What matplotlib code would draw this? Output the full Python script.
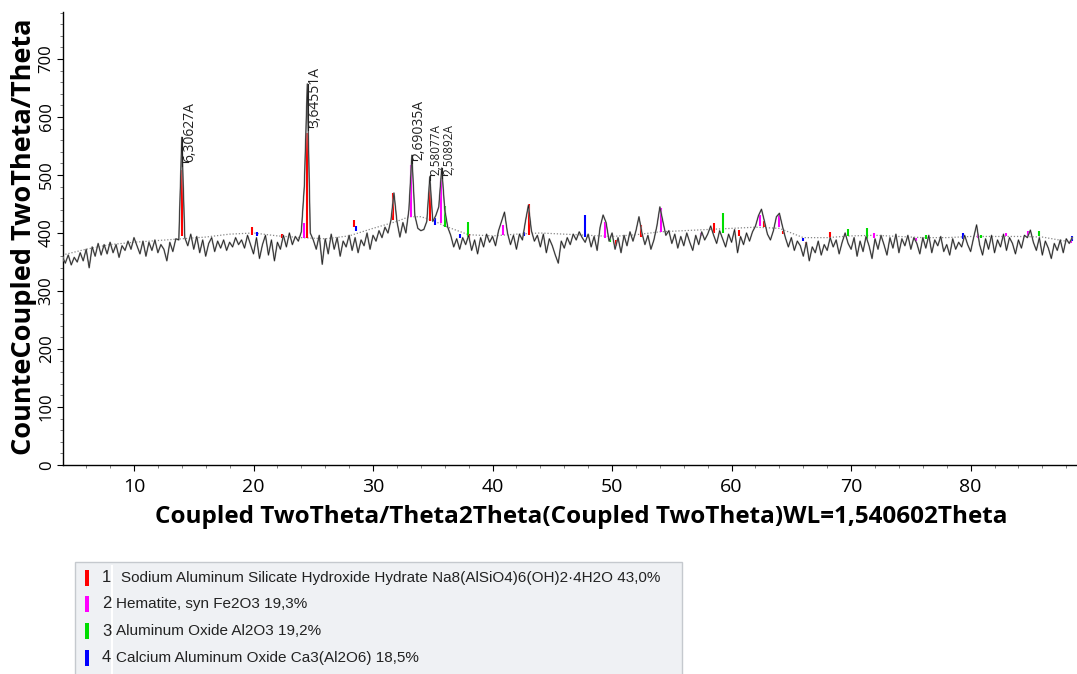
import numpy as np
import matplotlib
matplotlib.use("Agg")
import matplotlib.pyplot as plt
from matplotlib.patches import Rectangle
from matplotlib.lines import Line2D
from matplotlib.ticker import MultipleLocator

# ---------------- data ----------------
two_theta_start = 4.0
two_theta_step = 0.25
intensity = [
    360, 348, 362, 345, 358, 350, 366, 352, 372, 340, 376, 360, 382, 362, 380, 364,   # 4-7.75
    384, 366, 380, 358, 378, 370, 386, 372, 392, 378, 364, 386, 360, 384, 370, 388,   # 8-11.75
    366, 380, 372, 352, 384, 368, 390, 388, 565, 392, 378, 398, 372, 394, 366, 388,   # 12-15.75
    360, 382, 392, 368, 386, 374, 388, 370, 384, 376, 392, 380, 388, 374, 396, 380,   # 16-19.75
    364, 392, 356, 380, 396, 362, 388, 352, 384, 372, 396, 376, 400, 380, 394, 386,   # 20-23.75
    402, 480, 657, 400, 388, 372, 396, 346, 390, 364, 398, 372, 392, 360, 386, 376,   # 24-27.75
    396, 370, 392, 366, 388, 378, 400, 372, 396, 386, 404, 392, 410, 400, 422, 469,   # 28-31.75
    420, 393, 418, 400, 440, 534, 430, 408, 404, 406, 420, 497, 420, 430, 445, 512,   # 32-35.75
    440, 410, 396, 376, 390, 372, 392, 380, 396, 370, 388, 364, 392, 376, 398, 384,   # 36-39.75
    394, 378, 404, 420, 436, 400, 380, 396, 372, 398, 388, 420, 448, 404, 386, 396,   # 40-43.75
    376, 398, 366, 390, 378, 362, 348, 386, 374, 392, 380, 398, 388, 402, 392, 384,   # 44-47.75
    398, 376, 394, 370, 410, 431, 418, 386, 400, 372, 392, 366, 396, 378, 402, 386,   # 48-51.75
    404, 428, 400, 380, 396, 372, 388, 412, 445, 420, 396, 404, 382, 398, 374, 394,   # 52-55.75
    378, 400, 384, 370, 396, 380, 402, 388, 398, 412, 396, 382, 404, 390, 376, 398,   # 56-59.75
    384, 406, 366, 394, 380, 400, 386, 402, 412, 430, 441, 420, 398, 388, 404, 428,   # 60-63.75
    434, 412, 392, 376, 392, 370, 386, 378, 360, 384, 352, 376, 366, 386, 362, 380,   # 64-67.75
    370, 392, 376, 388, 364, 384, 400, 382, 372, 392, 360, 386, 368, 394, 378, 356,   # 68-71.75
    390, 372, 396, 380, 362, 392, 374, 398, 366, 390, 378, 396, 372, 392, 382, 364,   # 72-75.75
    392, 374, 396, 366, 388, 378, 394, 368, 380, 362, 390, 372, 384, 376, 396, 380,   # 76-79.75
    368, 392, 414, 380, 362, 390, 372, 396, 366, 388, 376, 398, 370, 392, 382, 364,   # 80-83.75
    388, 374, 396, 392, 405, 384, 370, 392, 362, 386, 374, 356, 382, 370, 388, 366,   # 84-87.75
    390, 382, 392,                                                                    # 88-88.5
]

# fitted background (dotted)
bg_theta = [4, 6, 8, 10, 12, 14, 16, 18, 20, 22, 24, 26, 28, 30, 32, 33, 34, 35, 36, 38,
            40, 42, 44, 46, 48, 50, 52, 54, 56, 58, 60, 62, 64, 66, 68, 70, 72, 74, 76, 78,
            80, 82, 84, 86, 88.5]
bg_counts = [362, 372, 380, 384, 387, 390, 393, 398, 400, 395, 392, 390, 395, 408, 420, 428, 428, 422, 412, 397,
             395, 398, 400, 398, 396, 394, 397, 402, 404, 406, 408, 410, 408, 392, 392, 395, 396, 394, 392, 392,
             394, 394, 394, 393, 384]

# phase sticks: position, top, base
red_pos = [14.0, 19.9, 22.4, 24.45, 28.4, 31.7, 34.8, 38.0, 43.05, 50.3, 52.4, 58.5, 60.6, 62.7, 64.3, 66.2, 68.2]
red_top = [509, 410, 398, 572, 422, 469, 479, 398, 450, 388, 414, 417, 405, 420, 403, 385, 402]
red_bot = [395, 396, 392, 392, 410, 422, 420, 390, 397, 378, 393, 400, 395, 410, 398, 378, 392]

mag_pos = [24.2, 33.2, 35.65, 40.85, 49.4, 54.1, 57.4, 62.4, 63.95, 71.9, 75.4, 80.6, 83.0, 84.8, 88.4]
mag_top = [418, 517, 495, 414, 419, 443, 400, 431, 431, 400, 392, 398, 400, 403, 388]
mag_bot = [392, 428, 417, 397, 391, 402, 394, 412, 410, 392, 386, 392, 394, 394, 382]

grn_pos = [36.0, 37.95, 49.8, 59.3, 69.7, 71.3, 76.3, 80.9, 85.7]
grn_top = [447, 419, 392, 434, 407, 408, 396, 396, 403]
grn_bot = [410, 393, 384, 400, 395, 390, 390, 392, 394]

blu_pos = [20.3, 28.6, 35.2, 37.3, 42.6, 47.7, 66.0, 79.4, 88.5]
blu_top = [402, 412, 425, 398, 402, 431, 392, 400, 394]
blu_bot = [395, 404, 414, 392, 394, 393, 386, 390, 386]

# d-spacing labels
d_labels = ["6,30627A", "3,64551A", "2,69035A", "2,58077A", "2,50892A"]
d_theta = [14.0, 24.5, 33.25, 34.75, 35.75]
d_peak = [565, 657, 534, 497, 512]
d_base = [522, 583, 526, 500, 500]

phase_names = [
    "Sodium Aluminum Silicate Hydroxide Hydrate Na8(AlSiO4)6(OH)2\u00b74H2O 43,0%",
    "Hematite, syn Fe2O3 19,3%",
    "Aluminum Oxide Al2O3 19,2%",
    "Calcium Aluminum Oxide Ca3(Al2O6) 18,5%",
]
phase_colors = ["#ff0000", "#ff00ff", "#00dd00", "#0000ff"]

# ---------------- plot ----------------
W, H = 1077, 674
fig = plt.figure(figsize=(W / 100, H / 100), dpi=100)
ax = fig.add_axes([63 / W, 1 - 465 / H, 1014 / W, 453 / H])

theta = two_theta_start + two_theta_step * np.arange(len(intensity))
ax.plot(bg_theta, bg_counts, color="#888888", lw=0.9, ls=(0, (1, 1.5)), zorder=2)

stick_sets = [(red_pos, red_top, red_bot), (mag_pos, mag_top, mag_bot),
              (grn_pos, grn_top, grn_bot), (blu_pos, blu_top, blu_bot)]
for (p, t, b), c in zip(stick_sets, phase_colors):
    ax.vlines(p, b, t, colors=c, lw=1.5, zorder=3)

ax.plot(theta, intensity, color="#9a9a9a", lw=1.2, zorder=4)
ax.plot(theta, intensity, color="#1a1a1a", lw=0.5, zorder=5)

label_sizes = [10, 10, 10, 8.5, 8.5]
label_offsets = [0.7, 0.6, 0.6, 0.5, 0.6]
for lab, x0, pk, base, fs, off in zip(d_labels, d_theta, d_peak, d_base, label_sizes, label_offsets):
    ax.plot([x0 + 0.05, x0 + 0.05], [min(pk, base) - 6, max(pk, base)], color="#222222", lw=0.8, zorder=6)
    ax.plot([x0 + 0.05, x0 + off - 0.15], [base, base], color="#222222", lw=0.8, zorder=6)
    ax.text(x0 + off, base, lab, rotation=90, ha="center", va="bottom",
            fontsize=fs, family="Open Sans", color="#222222", zorder=7)

ax.set_xlim(4.06, 88.9)
ax.set_ylim(0, 781)
for s in ["top", "right"]:
    ax.spines[s].set_visible(False)
ax.spines["left"].set_linewidth(1.0)
ax.spines["bottom"].set_linewidth(1.0)

ax.xaxis.set_major_locator(MultipleLocator(10))
ax.xaxis.set_minor_locator(MultipleLocator(2))
ax.yaxis.set_major_locator(MultipleLocator(100))
ax.yaxis.set_minor_locator(MultipleLocator(20))
ax.tick_params(axis="x", which="major", length=4, width=0.8, pad=5, labelsize=14)
ax.tick_params(axis="x", which="minor", length=2.5, width=0.6, color="#666666")
ax.tick_params(axis="y", which="major", length=4, width=0.8, pad=2, labelsize=12, labelrotation=90)
ax.tick_params(axis="y", which="minor", length=2, width=0.6, color="#666666")
for lbl in ax.get_xticklabels() + ax.get_yticklabels():
    lbl.set_family("Open Sans")
for lbl in ax.get_yticklabels():
    lbl.set_verticalalignment("center")

fig.text(24 / W, 1 - 237 / H, "CounteCoupled TwoTheta/Theta", rotation=90, ha="center", va="center",
         fontsize=19.5, fontweight="bold", family="Open Sans")
fig.text(581 / W, 1 - 517 / H, "Coupled TwoTheta/Theta2Theta(Coupled TwoTheta)WL=1,540602Theta",
         ha="center", va="center", fontsize=17.5, fontweight="bold", family="Open Sans")

# legend box
fig.add_artist(Rectangle((75 / W, -0.01), 607 / W, 0.01 + (1 - 562 / H), transform=fig.transFigure,
                         facecolor="#eff1f4", edgecolor="#c5c9ce", lw=1.0, zorder=1))
fig.add_artist(Line2D([112 / W, 112 / W], [-0.01, 1 - 566 / H], transform=fig.transFigure,
                      color="white", lw=1.5, zorder=2))
row_y = [578, 604, 631, 658]
for i, (name, col, yy) in enumerate(zip(phase_names, phase_colors, row_y)):
    fig.add_artist(Rectangle((85 / W, 1 - (yy + 8) / H), 4 / W, 16 / H, transform=fig.transFigure,
                             facecolor=col, edgecolor="none", zorder=3))
    fig.text(102 / W, 1 - yy / H, str(i + 1), ha="left", va="center", fontsize=12,
             family="Liberation Sans", color="#222222")
    fig.text((121 if i == 0 else 116) / W, 1 - yy / H, name, ha="left", va="center", fontsize=11,
             family="Liberation Sans", color="#222222")

fig.savefig("out.png", dpi=100)
